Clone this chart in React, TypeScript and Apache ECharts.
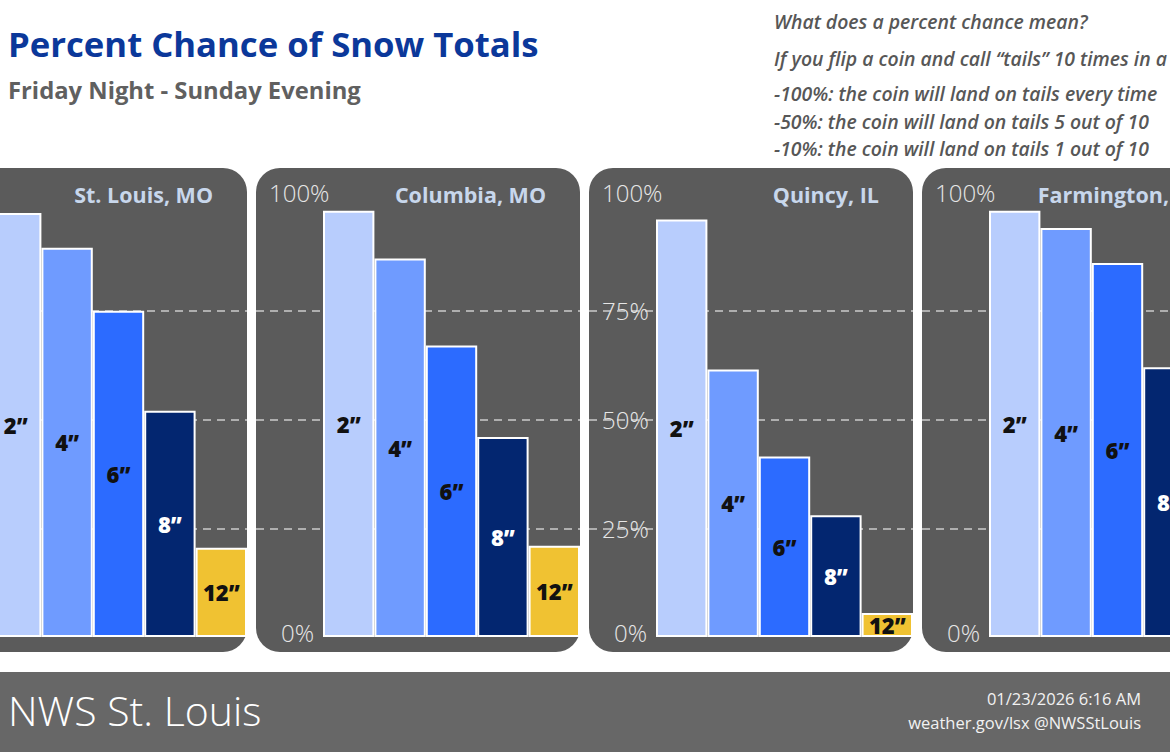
import React, { useEffect, useRef } from "react";
import * as echarts from "echarts";

// Snow amount thresholds (x categories)
const SNOW_AMOUNTS = ["2”", "4”", "6”", "8”", "12”"];

// Sites, left to right
const CITIES = ["St. Louis, MO", "Columbia, MO", "Quincy, IL", "Farmington, MO"];

// Percent chance of reaching each amount, per site
const ST_LOUIS = [97.5, 89.5, 75, 52, 20.5];
const COLUMBIA = [98, 87, 67, 46, 21];
const QUINCY = [96, 61.5, 41.5, 28, 5.5];
const FARMINGTON = [98, 94, 86, 62, null];

const CITY_VALUES = [ST_LOUIS, COLUMBIA, QUINCY, FARMINGTON];

// Percent axis ticks
const PCT_TICKS = [0, 25, 50, 75, 100];

const EXPLAINER = [
  "What does a percent chance mean?",
  "If you flip a coin and call “tails” 10 times in a",
  "-100%: the coin will land on tails every time",
  "-50%: the coin will land on tails 5 out of 10",
  "-10%: the coin will land on tails 1 out of 10",
];

const FONT = "'Open Sans', Lato, sans-serif";
const BAR_COLORS = ["#b8cdfd", "#6f9bff", "#2c6bff", "#032670", "#f0c232"];
const BAR_LABEL_COLORS = ["#111", "#111", "#111", "#fff", "#111"];

// The canvas starts a little left of the page so the first panel can run off its edge.
const OFF = 80;
const EXTRA_RIGHT = 120;

export default function App() {
  const ref = useRef<HTMLDivElement>(null);

  useEffect(() => {
    if (!ref.current) return;
    const chart = echarts.init(ref.current, null, { renderer: "svg" });

    const panelW = 324;
    const panelStep = 333;
    const firstLeft = OFF - 77;
    const panelTop = 168;
    const panelH = 484;
    const plotTop = 202;
    const plotH = 435;
    const plotOffset = 67;

    const grids: any[] = [];
    const xAxes: any[] = [];
    const yAxes: any[] = [];
    const series: any[] = [];
    const graphics: any[] = [];

    const labelBase = { color: "#e6e6e6", fontFamily: FONT, fontWeight: 300, fontSize: 24 };

    CITIES.forEach((city, i) => {
      const pl = firstLeft + i * panelStep;
      const showAll = i === 2;

      // panel background
      graphics.push({
        type: "rect",
        z: -10,
        shape: { x: pl, y: panelTop, width: panelW, height: panelH, r: 24 },
        style: { fill: "#5b5b5b" },
      });
      // city name
      graphics.push({
        type: "text",
        z: 10,
        x: pl + panelW - 34,
        y: 194,
        style: {
          text: city,
          fill: "#c8d7ec",
          font: `bold 21.5px ${FONT}`,
          textAlign: "right",
          textVerticalAlign: "middle",
        },
      });

      const wide = grids.length;
      grids.push({ left: pl, top: plotTop, width: panelW, height: plotH });
      grids.push({ left: pl + plotOffset, top: plotTop, width: panelW - plotOffset, height: plotH });

      // full-width axis: dashed guides and percent labels
      xAxes.push({ type: "value", gridIndex: wide, min: 0, max: 1, show: false });
      yAxes.push({
        type: "value",
        gridIndex: wide,
        min: PCT_TICKS[0],
        max: PCT_TICKS[PCT_TICKS.length - 1],
        interval: PCT_TICKS[1] - PCT_TICKS[0],
        axisLine: { show: false },
        axisTick: { show: false },
        splitLine: {
          show: true,
          showMinLine: false,
          showMaxLine: false,
          lineStyle: { color: "rgba(215,215,215,0.9)", width: 1.5, type: [8, 6] },
        },
        axisLabel: {
          inside: true,
          margin: 13,
          ...labelBase,
          formatter: (v: number) => {
            if (v === 100) return `{top|${v}%}`;
            if (v === 0) return `{bot|${v}%}`;
            return showAll ? `${v}%` : "";
          },
          rich: {
            top: { padding: [0, 0, 20, 0], ...labelBase },
            bot: { padding: [0, 0, 10, 12], ...labelBase },
          },
        },
      });
      series.push({ type: "line", xAxisIndex: wide, yAxisIndex: wide, data: [], silent: true });

      // bar axis
      xAxes.push({
        type: "category",
        gridIndex: wide + 1,
        data: SNOW_AMOUNTS,
        show: false,
      });
      yAxes.push({
        type: "value",
        gridIndex: wide + 1,
        min: 0,
        max: 100,
        show: false,
        splitLine: { show: false },
      });
      series.push({
        type: "bar",
        name: city,
        xAxisIndex: wide + 1,
        yAxisIndex: wide + 1,
        barCategoryGap: "0%",
        z: 3,
        itemStyle: { borderColor: "#ffffff", borderWidth: 2 },
        label: {
          show: true,
          position: "inside",
          formatter: "{b}",
          fontFamily: FONT,
          fontWeight: 800,
          fontSize: 22,
        },
        data: CITY_VALUES[i].map((v, k) => ({
          value: v,
          itemStyle: { color: BAR_COLORS[k] },
          label: { color: BAR_LABEL_COLORS[k] },
        })),
      });
    });

    // header
    graphics.push({
      type: "text",
      x: OFF + 8,
      y: 43,
      style: {
        text: "Percent Chance of Snow Totals",
        fill: "#0b389a",
        font: `bold 34.7px ${FONT}`,
        textVerticalAlign: "middle",
      },
    });
    graphics.push({
      type: "text",
      x: OFF + 8,
      y: 90,
      style: {
        text: "Friday Night - Sunday Evening",
        fill: "#606060",
        font: `bold 23.8px ${FONT}`,
        textVerticalAlign: "middle",
      },
    });
    const explainerY = [21, 58, 93, 121, 148];
    EXPLAINER.forEach((line, k) => {
      graphics.push({
        type: "text",
        x: OFF + 774,
        y: explainerY[k],
        style: {
          text: line,
          fill: "#575757",
          font: `italic 600 19.4px ${FONT}`,
          textVerticalAlign: "middle",
        },
      });
    });

    // footer band
    graphics.push({
      type: "rect",
      z: -10,
      shape: { x: 0, y: 672, width: 1170 + OFF + EXTRA_RIGHT, height: 80 },
      style: { fill: "#676767" },
    });
    graphics.push({
      type: "text",
      x: OFF + 8,
      y: 710,
      style: {
        text: "NWS St. Louis",
        fill: "#ffffff",
        font: `300 41px ${FONT}`,
        textVerticalAlign: "middle",
      },
    });
    graphics.push({
      type: "text",
      x: OFF + 1141,
      y: 698,
      style: {
        text: "01/23/2026 6:16 AM",
        fill: "#f2f2f2",
        font: `16.5px ${FONT}`,
        textAlign: "right",
        textVerticalAlign: "middle",
      },
    });
    graphics.push({
      type: "text",
      x: OFF + 1141,
      y: 722,
      style: {
        text: "weather.gov/lsx @NWSStLouis",
        fill: "#f2f2f2",
        font: `16.5px ${FONT}`,
        textAlign: "right",
        textVerticalAlign: "middle",
      },
    });

    chart.setOption({
      animation: false,
      backgroundColor: "#ffffff",
      grid: grids,
      xAxis: xAxes,
      yAxis: yAxes,
      series,
      graphic: { elements: graphics },
    });

    return () => chart.dispose();
  }, []);

  return (
    <div style={{ position: "fixed", left: 0, top: 0, width: 1170, height: 752, overflow: "hidden" }}>
      <div
        ref={ref}
        style={{ position: "absolute", left: -OFF, top: 0, width: 1170 + OFF + EXTRA_RIGHT, height: 752 }}
      />
    </div>
  );
}
